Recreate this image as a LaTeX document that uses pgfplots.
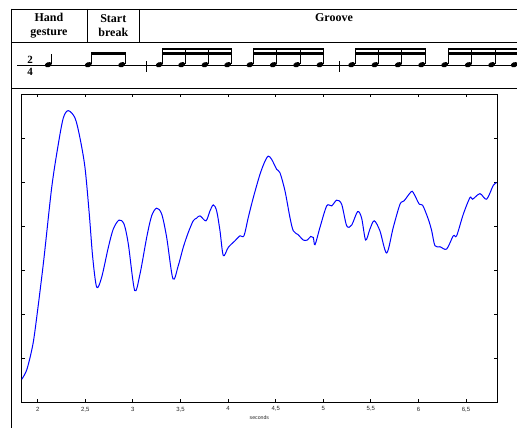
\documentclass[border=0pt]{standalone}
\usepackage{pgfplots}
\pgfplotsset{compat=1.18}
\usepackage{fontspec}
\setmainfont{Liberation Serif}
\newfontfamily\sansf{Liberation Sans}
\newcommand\nh[1]{\fill[rotate around={20:(#1,363.3)}] (#1,363.3) ellipse (3.6 and 2.5);}
\begin{document}
\begin{tikzpicture}[x=1pt,y=1pt]
\useasboundingbox (0,0) rectangle (517,428);
% header table
\draw[line width=0.9pt] (11.1,419) -- (517,419);
\draw[line width=0.9pt] (11.1,385.7) -- (517,385.7);
\draw[line width=0.9pt] (11.1,339.3) -- (517,339.3);
\draw[line width=0.9pt] (11.5,419.45) -- (11.5,0);
\draw[line width=0.9pt] (87.3,419) -- (87.3,385.7);
\draw[line width=0.9pt] (139.3,419) -- (139.3,385.7);
\node[font=\fontsize{12}{14.5}\selectfont\bfseries, align=center, inner sep=0pt] at (49,402.3) {Hand\\gesture};
\node[font=\fontsize{12}{14.5}\selectfont\bfseries, align=center, inner sep=0pt] at (113.3,402.3) {Start\\break};
\node[font=\fontsize{12}{14.5}\selectfont\bfseries, inner sep=0pt, anchor=base] at (334,406.5) {Groove};
% staff
\draw[line width=0.6pt] (17,362.3) -- (517,362.3);
\node[font=\fontsize{11}{11}\selectfont\bfseries, inner sep=0pt] at (30,368.4) {2};
\node[font=\fontsize{11}{11}\selectfont\bfseries, inner sep=0pt] at (30,356.2) {4};
% quarter note
\nh{48.3}
\draw[line width=0.6pt] (51.6,363.8) -- (51.6,373.7);
% eighth notes
\nh{88.3}\nh{121.7}
\draw[line width=0.6pt] (91.6,363.8) -- (91.6,375.5);
\draw[line width=0.6pt] (125.0,363.8) -- (125.0,375.5);
\fill (91.3,373.4) rectangle (125.3,376.0);
% barlines
\draw[line width=0.6pt] (146.7,356.3) -- (146.7,367);
\draw[line width=0.6pt] (339.3,356.3) -- (339.3,367);
% sixteenth groups
\foreach \a/\b/\c/\d in {159.3/181.7/205/227.7, 250/273.3/296.7/320, 351.7/375/398.3/421.7, 444.7/468.3/491.7/514.3}{
  \nh{\a}\nh{\b}\nh{\c}\nh{\d}
  \foreach \s in {\a,\b,\c,\d}{\draw[line width=0.6pt] (\s+3.3,363.8) -- (\s+3.3,380.3);}
  \fill (\a+3.0,377.8) rectangle (\d+3.6,380.4);
  \fill (\a+3.0,373.4) rectangle (\d+3.6,376.0);
}
\begin{axis}[
  at={(21.7pt,26pt)}, anchor=south west, scale only axis,
  width=475.3pt, height=308pt,
  xmin=1.832, xmax=6.825, ymin=0, ymax=7,
  xtick={2,2.5,3,3.5,4,4.5,5,5.5,6,6.5},
  xticklabels={2,{2,5},3,{3,5},4,{4,5},5,{5,5},6,{6,5}},
  ytick={0,1,2,3,4,5,6,7}, yticklabels={},
  tick align=inside, major tick length=3.3pt,
  axis line style={line width=0.9pt},
  every tick/.style={black, line width=0.8pt},
  ticklabel style={font=\sansf\fontsize{6}{7}\selectfont, text=black!85},
  xticklabel style={yshift=-1.3pt},
  /pgf/number format/assume math mode=true,
  xlabel={seconds},
  xlabel style={font=\sansf\fontsize{5.2}{6}\selectfont, text=black!85, at={(axis description cs:0.5,0)}, anchor=center, yshift=-15.7pt},
]
\addplot[color={rgb,255:red,0;green,0;blue,255}, line width=1pt, smooth, tension=0.5] coordinates {
(1.832,0.514)(1.884,0.724)(1.937,1.176)(1.972,1.629)(2.059,3.138)(2.147,4.871)(2.216,5.853)(2.269,6.455)(2.321,6.622)(2.392,6.455)(2.444,6.002)(2.497,5.324)(2.542,4.269)(2.578,3.287)(2.620,2.609)
(2.672,2.835)(2.742,3.514)(2.794,3.930)(2.854,4.134)(2.907,4.043)(2.952,3.590)(3.019,2.534)(3.075,2.912)(3.145,3.740)(3.197,4.231)(3.250,4.405)(3.303,4.269)(3.355,3.740)(3.421,2.799)
(3.477,3.100)(3.529,3.514)(3.582,3.853)(3.634,4.118)(3.670,4.179)(3.705,4.231)(3.768,4.118)(3.810,4.344)(3.845,4.480)(3.880,4.344)(3.915,3.891)(3.950,3.326)(4.002,3.514)(4.073,3.665)(4.125,3.778)(4.167,3.778)
(4.212,4.192)(4.265,4.645)(4.335,5.174)(4.388,5.475)(4.422,5.588)(4.458,5.514)(4.511,5.287)(4.545,5.210)(4.598,4.796)(4.650,4.192)(4.685,3.891)(4.737,3.801)(4.790,3.681)(4.832,3.681)(4.868,3.762)(4.895,3.740)(4.913,3.575)
(4.965,3.966)(5.036,4.457)(5.088,4.457)(5.141,4.586)(5.193,4.495)(5.246,4.005)(5.298,4.020)(5.361,4.328)(5.403,4.179)(5.445,3.681)(5.490,3.930)(5.535,4.118)(5.595,3.891)(5.666,3.387)
(5.735,3.966)(5.806,4.495)(5.848,4.570)(5.921,4.774)(5.946,4.758)(6.009,4.495)(6.044,4.473)(6.103,4.156)(6.139,3.891)(6.173,3.552)(6.226,3.529)(6.296,3.477)(6.366,3.778)(6.401,3.778)
(6.471,4.269)(6.541,4.645)(6.569,4.609)(6.646,4.735)(6.716,4.609)(6.786,4.925)(6.821,4.984)
};
\end{axis}
\end{tikzpicture}
\end{document}
